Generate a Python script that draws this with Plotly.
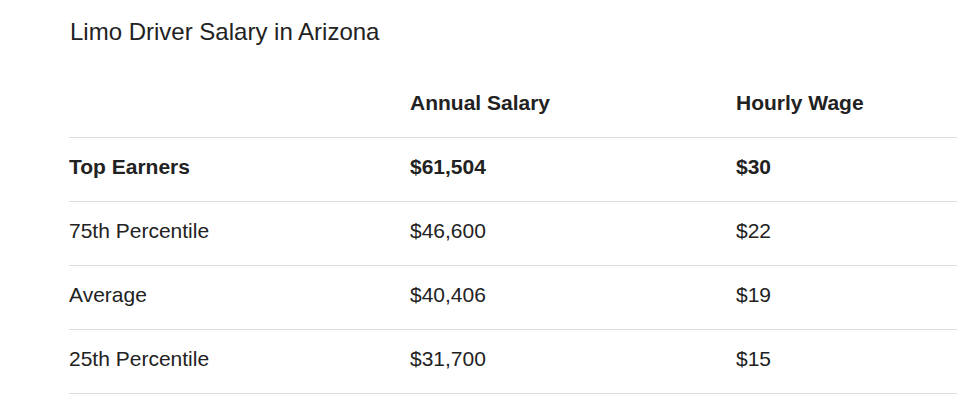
import plotly.graph_objects as go

# isi tabel gaji sopir limo di Arizona
judul = "Limo Driver Salary in Arizona"
kolom = ["", "Annual Salary", "Hourly Wage"]
kategori = ["Top Earners", "75th Percentile", "Average", "25th Percentile"]
gaji_tahunan = ["$61,504", "$46,600", "$40,406", "$31,700"]
upah_per_jam = ["$30", "$22", "$19", "$15"]

# posisi kiri tiap kolom (piksel dari tepi kiri area plot)
COL_X = [0, 341, 667]
FONT = "Liberation Sans, Arial, sans-serif"
UKURAN = 21

fig = go.Figure()

# baris header (tebal)
fig.add_trace(go.Scatter(
    x=COL_X, y=[0] * 3, mode="text",
    text=["<b>%s</b>" % k if k else "" for k in kolom],
    textposition="middle right",
    textfont=dict(family=FONT, size=UKURAN, color="#222"),
    hoverinfo="skip", showlegend=False))

# baris data, baris pertama tebal
for i, (kat, th, jam) in enumerate(zip(kategori, gaji_tahunan, upah_per_jam)):
    teks = [kat, th, jam]
    if i == 0:
        teks = ["<b>%s</b>" % t for t in teks]
    fig.add_trace(go.Scatter(
        x=COL_X, y=[i + 1] * 3, mode="text", text=teks,
        textposition="middle right",
        textfont=dict(family=FONT, size=UKURAN, color="#222"),
        hoverinfo="skip", showlegend=False))

n = len(kategori)
# halaman punya margin 8px; tinggi dikurangi supaya tidak ada scrollbar
fig.update_layout(
    width=957, height=392,
    margin=dict(l=61, r=0, t=0, b=0),
    paper_bgcolor="white", plot_bgcolor="white",
    title=dict(text=judul, x=62 / 957, xanchor="left", xref="container",
               y=1 - 24 / 392, yanchor="middle", yref="container",
               font=dict(family=FONT, size=24, color="#222")),
    xaxis=dict(range=[0, 896], visible=False, fixedrange=True),
    yaxis=dict(range=[n + 0.609375, -1.515625], autorange=False,
               tickvals=[k + 0.5 for k in range(n + 1)],
               showticklabels=False, showgrid=True, gridcolor="#ddd",
               gridwidth=1, zeroline=False, showline=False, ticks="",
               fixedrange=True),
)

fig.write_html("out.html")
